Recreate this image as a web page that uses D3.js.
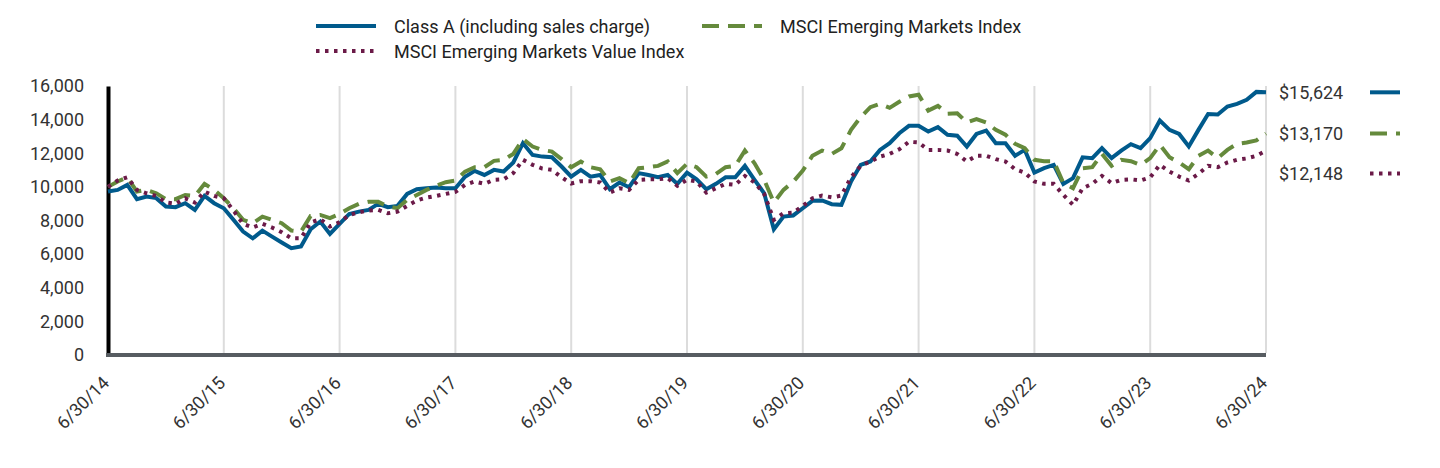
<!DOCTYPE html>
<html><head><meta charset="utf-8">
<script src="https://cdn.jsdelivr.net/npm/d3@7"></script>
<style>
body{margin:0;background:#fff}
svg{display:block}
text{font-family:Roboto, "Noto Sans", sans-serif}
</style>
</head><body>
<svg id="chart" width="1440" height="468"></svg>
<script>
// ---------------- data ----------------
const tickLabels = ["6/30/14","6/30/15","6/30/16","6/30/17","6/30/18","6/30/19","6/30/20","6/30/21","6/30/22","6/30/23","6/30/24"];
const yTicks = [0,2000,4000,6000,8000,10000,12000,14000,16000];
const seriesNames = ["Class A (including sales charge)","MSCI Emerging Markets Index","MSCI Emerging Markets Value Index"];
const endLabels = ["$15,624","$13,170","$12,148"];

const classA = [9720,9820,10120,9270,9420,9330,8830,8790,9030,8630,9460,9030,
8730,8040,7340,6940,7400,7040,6690,6350,6450,7480,7940,7200,
7800,8390,8530,8630,8990,8790,8870,9580,9860,9920,9960,9920,
9920,10600,10950,10710,11010,10910,11450,12600,11900,11800,11760,11210,
10610,11010,10610,10710,9860,10260,9980,10820,10710,10570,10710,10180,
10850,10450,9860,10180,10570,10570,11250,10420,9620,7480,8230,8300,
8730,9170,9190,8970,8930,10320,11310,11510,12200,12600,13190,13630,
13630,13290,13550,13100,13040,12400,13150,13350,12600,12600,11850,12200,
10850,11110,11310,10180,10520,11760,11710,12300,11710,12160,12540,12300,
12900,13950,13390,13150,12400,13390,14330,14300,14780,14940,15180,15650,
15624];

const msciEM = [10000,10320,10560,9720,9820,9620,9270,9270,9520,9460,10180,9820,
9320,8730,8040,7840,8230,8040,7840,7400,7340,8270,8330,8140,
8390,8730,8990,9110,9110,8830,8730,9230,9520,9820,10060,10280,
10380,10910,11170,11170,11550,11610,11960,12840,12400,12200,12100,11650,
11170,11510,11170,11050,10320,10520,10220,11110,11170,11250,11510,10820,
11370,11170,10610,10770,11170,11250,12160,11400,10420,9070,9820,10300,
10970,11850,12160,11960,12300,13390,14150,14740,14940,14700,15060,15380,
15480,14540,14820,14350,14380,13830,14030,13830,13390,13100,12560,12300,
11610,11530,11530,10220,9920,11110,11170,11960,11250,11610,11530,11310,
11710,12500,11760,11450,11050,11850,12160,11710,12200,12560,12640,12760,
13170];

const msciEMValue = [10000,10380,10570,9820,9620,9460,9070,8990,9320,9070,9720,9460,
9320,8590,7800,7580,7800,7580,7300,6940,6940,7880,8080,7640,
7900,8330,8490,8590,8630,8430,8530,8870,9190,9360,9460,9580,
9700,10120,10320,10180,10420,10450,10820,11610,11310,11090,11010,10570,
10200,10340,10340,10260,9660,9920,9820,10420,10450,10450,10520,10060,
10420,10320,9660,9920,10180,10120,10650,10260,9580,8040,8430,8470,
8870,9320,9480,9380,9480,10570,11250,11510,11800,11960,12240,12680,
12640,12200,12200,12160,11960,11510,11850,11850,11650,11510,11050,10850,
10320,10180,10180,9520,8930,9920,10180,10650,10220,10420,10450,10380,
10570,11310,10910,10610,10380,10770,11250,11170,11450,11610,11690,11850,
12148];

// ---------------- styles ----------------
const styles = [
  {color:"#005a8c", dash:null},
  {color:"#658a3c", dash:"17,9"},
  {color:"#6b1a48", dash:"3.5,5.5"}
];
const seriesData = [classA, msciEM, msciEMValue];

const svg = d3.select("#chart");
const x = d3.scaleLinear().domain([0, classA.length - 1]).range([108, 1266]);
const y = d3.scaleLinear().domain([0, 16000]).range([355, 86]);
const tickIdx = tickLabels.map((d, i) => i * 12);

// gridlines
svg.append("g").selectAll("line").data(tickIdx.slice(1)).join("line")
  .attr("x1", d => x(d)).attr("x2", d => x(d))
  .attr("y1", y(16000)).attr("y2", y(0) - 2)
  .attr("stroke", "#dcdcdc").attr("stroke-width", 2);

// y axis
const yAxis = svg.append("g").attr("transform", "translate(108,0)")
  .call(d3.axisLeft(y).tickValues(yTicks).tickFormat(d3.format(",")).tickSize(0).tickSizeOuter(0).tickPadding(24));
yAxis.select(".domain").attr("stroke", "#000").attr("stroke-width", 4);
yAxis.selectAll("text").attr("font-size", 18).attr("fill", "#333").attr("font-family", "Roboto");

// lines
const line = d3.line().x((d, i) => x(i)).y(d => y(d));
seriesData.forEach((s, k) => {
  svg.append("path").datum(s)
    .attr("d", line)
    .attr("fill", "none")
    .attr("stroke", styles[k].color)
    .attr("stroke-width", 4)
    .attr("stroke-dasharray", styles[k].dash)
    .attr("stroke-linejoin", "miter");
});

// x axis
const xAxis = svg.append("g").attr("transform", "translate(0,355)")
  .call(d3.axisBottom(x).tickValues(tickIdx).tickFormat((d, i) => tickLabels[i]).tickSize(0).tickSizeOuter(0));
xAxis.select(".domain").attr("stroke", "#575c61").attr("stroke-width", 4)
  .attr("d", "M106,0H" + x(classA.length - 1));
xAxis.selectAll("text")
  .attr("x", 0).attr("y", 0).attr("dy", 0)
  .attr("text-anchor", "end")
  .attr("transform", "translate(2,29) rotate(-45)")
  .attr("font-size", 18).attr("fill", "#333").attr("font-family", "Roboto");

// legend
const legendPos = [{x:316, y:26}, {x:702, y:26}, {x:316, y:51}];
seriesNames.forEach((name, k) => {
  const g = svg.append("g").attr("transform", `translate(${legendPos[k].x},${legendPos[k].y})`);
  g.append("line").attr("x1", 0).attr("x2", k === 2 ? 58 : 60).attr("y1", 0).attr("y2", 0)
    .attr("stroke", styles[k].color).attr("stroke-width", 4)
    .attr("stroke-dasharray", styles[k].dash);
  g.append("text").attr("x", 78).attr("y", 6.5).text(name)
    .attr("font-size", 18).attr("fill", "#222");
});

// end labels
const finals = seriesData.map(s => s[s.length - 1]);
const endY = [];
finals.forEach((v, k) => {
  let yy = y(v);
  if (k > 0 && yy < endY[k - 1] + 40) yy = endY[k - 1] + 40;
  endY.push(yy);
});
endLabels.forEach((lab, k) => {
  svg.append("text").attr("x", 1279).attr("y", endY[k] + 6.5).text(lab)
    .attr("font-size", 18).attr("fill", "#333");
  svg.append("line").attr("x1", 1370).attr("x2", 1400).attr("y1", endY[k]).attr("y2", endY[k])
    .attr("stroke", styles[k].color).attr("stroke-width", 4)
    .attr("stroke-dasharray", styles[k].dash);
});
</script>
</body></html>
